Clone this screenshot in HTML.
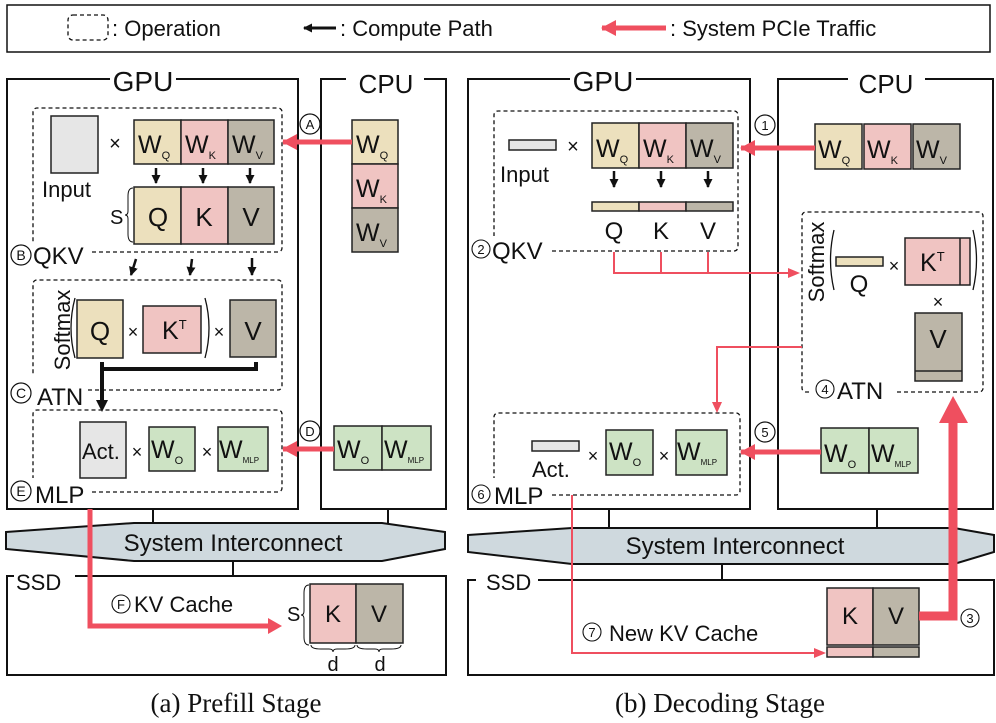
<!DOCTYPE html>
<html><head><meta charset="utf-8"><style>
html,body{margin:0;padding:0;background:#fff}
svg{display:block}
text{font-family:"Liberation Sans",sans-serif;fill:#111}
.s{font-size:11px}
</style></head><body>
<svg width="996" height="723" viewBox="0 0 996 723" xmlns="http://www.w3.org/2000/svg">
<defs>
<marker id="ab" markerWidth="10" markerHeight="10" refX="8" refY="4.5" orient="auto" markerUnits="userSpaceOnUse"><path d="M0,0L9,4.5L0,9z" fill="#111"/></marker>
<marker id="ar2" markerWidth="16" markerHeight="18" refX="14" refY="8" orient="auto" markerUnits="userSpaceOnUse"><path d="M0,0L15,8L0,16z" fill="#ef4f5f"/></marker>
</defs>
<g fill="none" stroke="#111">
<rect x="7" y="5" width="983" height="47" stroke-width="1.5"/>
<rect x="68" y="15" width="40" height="25" rx="5" stroke-dasharray="4,3" stroke-width="1.3"/>
</g>
<text x="112" y="36" font-size="22">: Operation</text>
<line x1="336" y1="28" x2="304" y2="28" stroke="#111" stroke-width="3" marker-end="url(#ab)"/>
<text x="340" y="36" font-size="22">: Compute Path</text>
<line x1="666" y1="28" x2="602" y2="28" stroke="#ef4f5f" stroke-width="5" marker-end="url(#ar2)"/>
<text x="670" y="36" font-size="22">: System PCIe Traffic</text>

<!-- ========== LEFT ========== -->
<g fill="none" stroke="#111" stroke-width="2">
<path d="M110,79H7V509H298V79H176"/>
<path d="M346,79H321V509H446V79H424"/>
</g>
<text x="143" y="91" font-size="28" text-anchor="middle">GPU</text>
<text x="386" y="93" font-size="26" text-anchor="middle">CPU</text>
<g fill="none" stroke="#111" stroke-width="1.3" stroke-dasharray="4,3">
<path d="M92,252H278a4,4 0 0 0 4-4V112a4,4 0 0 0-4-4H37a4,4 0 0 0-4,4V244"/>
<path d="M88,390H278a4,4 0 0 0 4-4V284a4,4 0 0 0-4-4H37a4,4 0 0 0-4,4V376"/>
<path d="M92,492H278a4,4 0 0 0 4-4V414a4,4 0 0 0-4-4H37a4,4 0 0 0-4,4V478"/>
</g>
<g stroke="#222" stroke-width="1.5">
<rect x="51" y="116" width="47" height="57" fill="#e6e6e6"/>
<rect x="134" y="120" width="47" height="44" fill="#ece0bd"/>
<rect x="181" y="120" width="47" height="44" fill="#f0c4c2"/>
<rect x="228" y="120" width="46" height="44" fill="#bcb6a8"/>
<rect x="134" y="187" width="47" height="57" fill="#ece0bd"/>
<rect x="181" y="187" width="47" height="57" fill="#f0c4c2"/>
<rect x="228" y="187" width="46" height="57" fill="#bcb6a8"/>
<rect x="77" y="300" width="46" height="58" fill="#ece0bd"/>
<rect x="143" y="306" width="58" height="47" fill="#f0c4c2"/>
<rect x="230" y="300" width="46" height="57" fill="#bcb6a8"/>
<rect x="80" y="422" width="46" height="56" fill="#e6e6e6"/>
<rect x="149" y="427" width="46" height="44" fill="#cde3c4"/>
<rect x="218" y="427" width="50" height="44" fill="#cde3c4"/>
<rect x="352" y="120" width="46" height="44" fill="#ece0bd"/>
<rect x="352" y="164" width="46" height="44" fill="#f0c4c2"/>
<rect x="352" y="208" width="46" height="44" fill="#bcb6a8"/>
<rect x="334" y="426" width="48" height="44" fill="#cde3c4"/>
<rect x="382" y="426" width="49" height="44" fill="#cde3c4"/>
</g>
<text x="115" y="150" font-size="20" text-anchor="middle">×</text>
<text x="42" y="197" font-size="22">Input</text>
<text x="138" y="153" font-size="25">W<tspan class="s" dy="6">Q</tspan></text>
<text x="185" y="153" font-size="25">W<tspan class="s" dy="6">K</tspan></text>
<text x="232" y="153" font-size="25">W<tspan class="s" dy="6">V</tspan></text>
<text x="158" y="226" font-size="26" text-anchor="middle">Q</text>
<text x="204" y="226" font-size="26" text-anchor="middle">K</text>
<text x="251" y="226" font-size="26" text-anchor="middle">V</text>
<text x="110" y="224" font-size="20">S</text>
<path d="M133,188q-5,0-5,8v15q0,4-3,4q3,0 3,4v15q0,8 5,8" fill="none" stroke="#111" stroke-width="1"/>
<g stroke="#111" stroke-width="2.5">
<line x1="156" y1="168" x2="156" y2="183" marker-end="url(#ab)"/>
<line x1="203" y1="168" x2="203" y2="183" marker-end="url(#ab)"/>
<line x1="250" y1="168" x2="250" y2="183" marker-end="url(#ab)"/>
<line x1="136" y1="259" x2="131" y2="275" marker-end="url(#ab)"/>
<line x1="192" y1="259" x2="190" y2="275" marker-end="url(#ab)"/>
<line x1="252" y1="258" x2="252" y2="275" marker-end="url(#ab)"/>
</g>
<g font-size="14"><circle cx="21" cy="255" r="10" fill="none" stroke="#111" stroke-width="1.2"/><text x="21" y="260" text-anchor="middle">B</text></g>
<text x="33" y="264" font-size="24">QKV</text>
<text transform="translate(70,330) rotate(-90)" font-size="22" text-anchor="middle">Softmax</text>
<path d="M75,298q-8,30 0,60M205,298q8,30 0,60" fill="none" stroke="#111" stroke-width="1.3"/>
<text x="100" y="340" font-size="26" text-anchor="middle">Q</text>
<text x="133" y="338" font-size="18" text-anchor="middle">×</text>
<text x="162" y="339" font-size="25">K<tspan font-size="13" dy="-10">T</tspan></text>
<text x="219" y="338" font-size="18" text-anchor="middle">×</text>
<text x="253" y="340" font-size="26" text-anchor="middle">V</text>
<path d="M102,362V369H256V362M102,369V404" fill="none" stroke="#111" stroke-width="4"/>
<path d="M96,400L102,412L108,400z" fill="#111"/>
<g font-size="14"><circle cx="21" cy="393" r="10" fill="none" stroke="#111" stroke-width="1.2"/><text x="21" y="398" text-anchor="middle">C</text></g>
<text x="37" y="405" font-size="24">ATN</text>
<text x="82" y="459" font-size="22">Act.</text>
<text x="137" y="458" font-size="18" text-anchor="middle">×</text>
<text x="151" y="458" font-size="25">W<tspan class="s" dy="6">O</tspan></text>
<text x="207" y="458" font-size="18" text-anchor="middle">×</text>
<text x="219" y="458" font-size="25">W<tspan font-size="8" dy="5">MLP</tspan></text>
<g font-size="14"><circle cx="21" cy="491" r="10" fill="none" stroke="#111" stroke-width="1.2"/><text x="21" y="496" text-anchor="middle">E</text></g>
<text x="35" y="503" font-size="24">MLP</text>
<text x="356" y="153" font-size="25">W<tspan class="s" dy="6">Q</tspan></text>
<text x="356" y="197" font-size="25">W<tspan class="s" dy="6">K</tspan></text>
<text x="356" y="241" font-size="25">W<tspan class="s" dy="6">V</tspan></text>
<text x="337" y="458" font-size="25">W<tspan class="s" dy="6">O</tspan></text>
<text x="384" y="458" font-size="25">W<tspan font-size="8" dy="5">MLP</tspan></text>
<line x1="352" y1="142" x2="283" y2="142" stroke="#ef4f5f" stroke-width="5" marker-end="url(#ar2)"/>
<line x1="334" y1="449" x2="283" y2="449" stroke="#ef4f5f" stroke-width="5" marker-end="url(#ar2)"/>
<g font-size="13"><circle cx="310" cy="124" r="10" fill="#fff" stroke="#111" stroke-width="1.2"/><text x="310" y="129" text-anchor="middle">A</text>
<circle cx="310" cy="431" r="10" fill="#fff" stroke="#111" stroke-width="1.2"/><text x="310" y="436" text-anchor="middle">D</text></g>

<g stroke="#111" stroke-width="2">
<line x1="153" y1="509" x2="153" y2="524"/><line x1="388" y1="509" x2="388" y2="524"/><line x1="233" y1="561" x2="233" y2="576"/>
<path d="M6,532L134,523H382L445,532V549L382,561H134L6,549z" fill="#cfd9de"/>
<path d="M14,576H7V675H446V576H75" fill="none"/>
</g>
<text x="233" y="551" font-size="24" text-anchor="middle">System Interconnect</text>
<text x="16" y="590" font-size="22">SSD</text>
<path d="M90,509V626H270" fill="none" stroke="#ef4f5f" stroke-width="5"/>
<path d="M268,618L282,626L268,634z" fill="#ef4f5f"/>
<g font-size="13"><circle cx="121" cy="604" r="9" fill="none" stroke="#111" stroke-width="1.1"/><text x="121" y="609" text-anchor="middle">F</text></g>
<text x="134" y="612" font-size="22">KV Cache</text>
<text x="287" y="621" font-size="20">S</text>
<path d="M309,585q-5,0-5,8v18q0,4-3,4q3,0 3,4v18q0,8 5,8" fill="none" stroke="#111" stroke-width="1"/>
<rect x="310" y="584" width="46" height="59" fill="#f0c4c2" stroke="#222" stroke-width="1.5"/>
<rect x="356" y="584" width="47" height="59" fill="#bcb6a8" stroke="#222" stroke-width="1.5"/>
<text x="333" y="622" font-size="24" text-anchor="middle">K</text>
<text x="379" y="622" font-size="24" text-anchor="middle">V</text>
<path d="M311,645q0,4 10,4h8q4,0 4,3q0-3 4-3h8q10,0 10-4M357,645q0,4 10,4h8q4,0 4,3q0-3 4-3h8q10,0 10-4" fill="none" stroke="#111" stroke-width="1"/>
<text x="333" y="671" font-size="20" text-anchor="middle">d</text>
<text x="380" y="671" font-size="20" text-anchor="middle">d</text>
<text x="236" y="712" font-size="27" text-anchor="middle" style="font-family:'Liberation Serif',serif">(a) Prefill Stage</text>

<!-- ========== RIGHT ========== -->
<g fill="none" stroke="#111" stroke-width="2">
<path d="M570,79H468V509H750V79H636"/>
<path d="M848,79H778V509H993V79H925"/>
</g>
<text x="603" y="91" font-size="28" text-anchor="middle">GPU</text>
<text x="886" y="93" font-size="26" text-anchor="middle">CPU</text>
<g fill="none" stroke="#111" stroke-width="1.3" stroke-dasharray="4,3">
<path d="M552,251H734a4,4 0 0 0 4-4V115a4,4 0 0 0-4-4H498a4,4 0 0 0-4,4V236"/>
<path d="M552,495H736a4,4 0 0 0 4-4V417a4,4 0 0 0-4-4H498a4,4 0 0 0-4,4V478"/>
<path d="M897,392H979a4,4 0 0 0 4-4V216a4,4 0 0 0-4-4H806a4,4 0 0 0-4,4V388a4,4 0 0 0 4,4H810"/>
</g>
<g stroke="#222" stroke-width="1.5">
<rect x="509" y="140" width="47" height="10" fill="#e6e6e6"/>
<rect x="592" y="123" width="47" height="45" fill="#ece0bd"/>
<rect x="639" y="123" width="47" height="45" fill="#f0c4c2"/>
<rect x="686" y="123" width="47" height="45" fill="#bcb6a8"/>
<rect x="592" y="202" width="47" height="9" fill="#ece0bd"/>
<rect x="639" y="202" width="47" height="9" fill="#f0c4c2"/>
<rect x="686" y="202" width="47" height="9" fill="#bcb6a8"/>
<rect x="836" y="257" width="47" height="9" fill="#ece0bd"/>
<rect x="905" y="238" width="65" height="47" fill="#f0c4c2"/>
<line x1="960" y1="238" x2="960" y2="285"/>
<rect x="915" y="313" width="47" height="68" fill="#bcb6a8"/>
<line x1="915" y1="371" x2="962" y2="371"/>
<rect x="532" y="441" width="47" height="10" fill="#e6e6e6"/>
<rect x="606" y="430" width="47" height="45" fill="#cde3c4"/>
<rect x="676" y="430" width="51" height="45" fill="#cde3c4"/>
<rect x="815" y="124" width="47" height="45" fill="#ece0bd"/>
<rect x="864" y="124" width="47" height="45" fill="#f0c4c2"/>
<rect x="913" y="124" width="47" height="45" fill="#bcb6a8"/>
<rect x="821" y="428" width="48" height="45" fill="#cde3c4"/>
<rect x="869" y="428" width="49" height="45" fill="#cde3c4"/>
</g>
<text x="573" y="153" font-size="20" text-anchor="middle">×</text>
<text x="500" y="182" font-size="22">Input</text>
<text x="596" y="157" font-size="25">W<tspan class="s" dy="6">Q</tspan></text>
<text x="643" y="157" font-size="25">W<tspan class="s" dy="6">K</tspan></text>
<text x="690" y="157" font-size="25">W<tspan class="s" dy="6">V</tspan></text>
<g stroke="#111" stroke-width="2.5">
<line x1="614" y1="171" x2="614" y2="187" marker-end="url(#ab)"/>
<line x1="661" y1="171" x2="661" y2="187" marker-end="url(#ab)"/>
<line x1="708" y1="171" x2="708" y2="187" marker-end="url(#ab)"/>
</g>
<text x="614" y="239" font-size="24" text-anchor="middle">Q</text>
<text x="661" y="239" font-size="24" text-anchor="middle">K</text>
<text x="708" y="239" font-size="24" text-anchor="middle">V</text>
<g font-size="13"><circle cx="481" cy="249" r="9" fill="none" stroke="#111" stroke-width="1.1"/><text x="481" y="254" text-anchor="middle">2</text></g>
<text x="492" y="259" font-size="24">QKV</text>
<path d="M614,252V273H790M661,252V273M708,252V273" fill="none" stroke="#ef4f5f" stroke-width="2"/>
<path d="M788,268L800,273L788,278z" fill="#ef4f5f"/>
<text transform="translate(824,262) rotate(-90)" font-size="22" text-anchor="middle">Softmax</text>
<path d="M834,230q-7,30 0,60M973,230q7,30 0,60" fill="none" stroke="#111" stroke-width="1.3"/>
<text x="859" y="292" font-size="24" text-anchor="middle">Q</text>
<text x="894" y="272" font-size="18" text-anchor="middle">×</text>
<text x="920" y="271" font-size="25">K<tspan font-size="13" dy="-10">T</tspan></text>
<text x="938" y="308" font-size="18" text-anchor="middle">×</text>
<text x="938" y="348" font-size="26" text-anchor="middle">V</text>
<g font-size="13"><circle cx="825" cy="389" r="9" fill="none" stroke="#111" stroke-width="1.1"/><text x="825" y="394" text-anchor="middle">4</text></g>
<text x="837" y="399" font-size="24">ATN</text>
<path d="M802,347H717V404" fill="none" stroke="#ef4f5f" stroke-width="2"/>
<path d="M712,402L717,413L722,402z" fill="#ef4f5f"/>
<text x="532" y="477" font-size="22">Act.</text>
<text x="593" y="462" font-size="18" text-anchor="middle">×</text>
<text x="609" y="460" font-size="25">W<tspan class="s" dy="6">O</tspan></text>
<text x="664" y="462" font-size="18" text-anchor="middle">×</text>
<text x="677" y="460" font-size="25">W<tspan font-size="8" dy="5">MLP</tspan></text>
<g font-size="13"><circle cx="481" cy="494" r="9" fill="none" stroke="#111" stroke-width="1.1"/><text x="481" y="499" text-anchor="middle">6</text></g>
<text x="494" y="504" font-size="24">MLP</text>
<text x="818" y="158" font-size="25">W<tspan class="s" dy="6">Q</tspan></text>
<text x="867" y="158" font-size="25">W<tspan class="s" dy="6">K</tspan></text>
<text x="916" y="158" font-size="25">W<tspan class="s" dy="6">V</tspan></text>
<text x="824" y="462" font-size="25">W<tspan class="s" dy="6">O</tspan></text>
<text x="871" y="462" font-size="25">W<tspan font-size="8" dy="5">MLP</tspan></text>
<line x1="815" y1="148" x2="741" y2="148" stroke="#ef4f5f" stroke-width="5" marker-end="url(#ar2)"/>
<line x1="821" y1="452" x2="741" y2="452" stroke="#ef4f5f" stroke-width="5" marker-end="url(#ar2)"/>
<g font-size="13"><circle cx="765" cy="125" r="10" fill="#fff" stroke="#111" stroke-width="1.2"/><text x="765" y="130" text-anchor="middle">1</text>
<circle cx="765" cy="432" r="10" fill="#fff" stroke="#111" stroke-width="1.2"/><text x="765" y="437" text-anchor="middle">5</text></g>

<g stroke="#111" stroke-width="2">
<line x1="609" y1="509" x2="609" y2="528"/><line x1="877" y1="509" x2="877" y2="528"/><line x1="722" y1="564" x2="722" y2="580"/>
<path d="M468,535L572,528H954L994,535V552L954,564H572L468,552z" fill="#cfd9de"/>
<path d="M476,580H468V675H994V580H538" fill="none"/>
</g>
<text x="735" y="554" font-size="24" text-anchor="middle">System Interconnect</text>
<text x="486" y="590" font-size="22">SSD</text>
<path d="M572,495V653H816" fill="none" stroke="#ef4f5f" stroke-width="2"/>
<path d="M814,648L826,653L814,658z" fill="#ef4f5f"/>
<g font-size="13"><circle cx="592" cy="632" r="9" fill="none" stroke="#111" stroke-width="1.1"/><text x="592" y="637" text-anchor="middle">7</text></g>
<text x="609" y="641" font-size="22">New KV Cache</text>
<g stroke="#222" stroke-width="1.5">
<rect x="827" y="588" width="46" height="57" fill="#f0c4c2"/>
<rect x="873" y="588" width="46" height="57" fill="#bcb6a8"/>
<rect x="827" y="647" width="46" height="10" fill="#f0c4c2"/>
<rect x="873" y="647" width="46" height="10" fill="#bcb6a8"/>
</g>
<text x="850" y="624" font-size="24" text-anchor="middle">K</text>
<text x="896" y="624" font-size="24" text-anchor="middle">V</text>
<path d="M919,616H953V420" fill="none" stroke="#ef4f5f" stroke-width="9"/>
<path d="M939,423L953,396L968,423z" fill="#ef4f5f"/>
<g font-size="13"><circle cx="970" cy="618" r="9" fill="#fff" stroke="#111" stroke-width="1.1"/><text x="970" y="623" text-anchor="middle">3</text></g>
<text x="720" y="712" font-size="27" text-anchor="middle" style="font-family:'Liberation Serif',serif">(b) Decoding Stage</text>
</svg>
</body></html>
